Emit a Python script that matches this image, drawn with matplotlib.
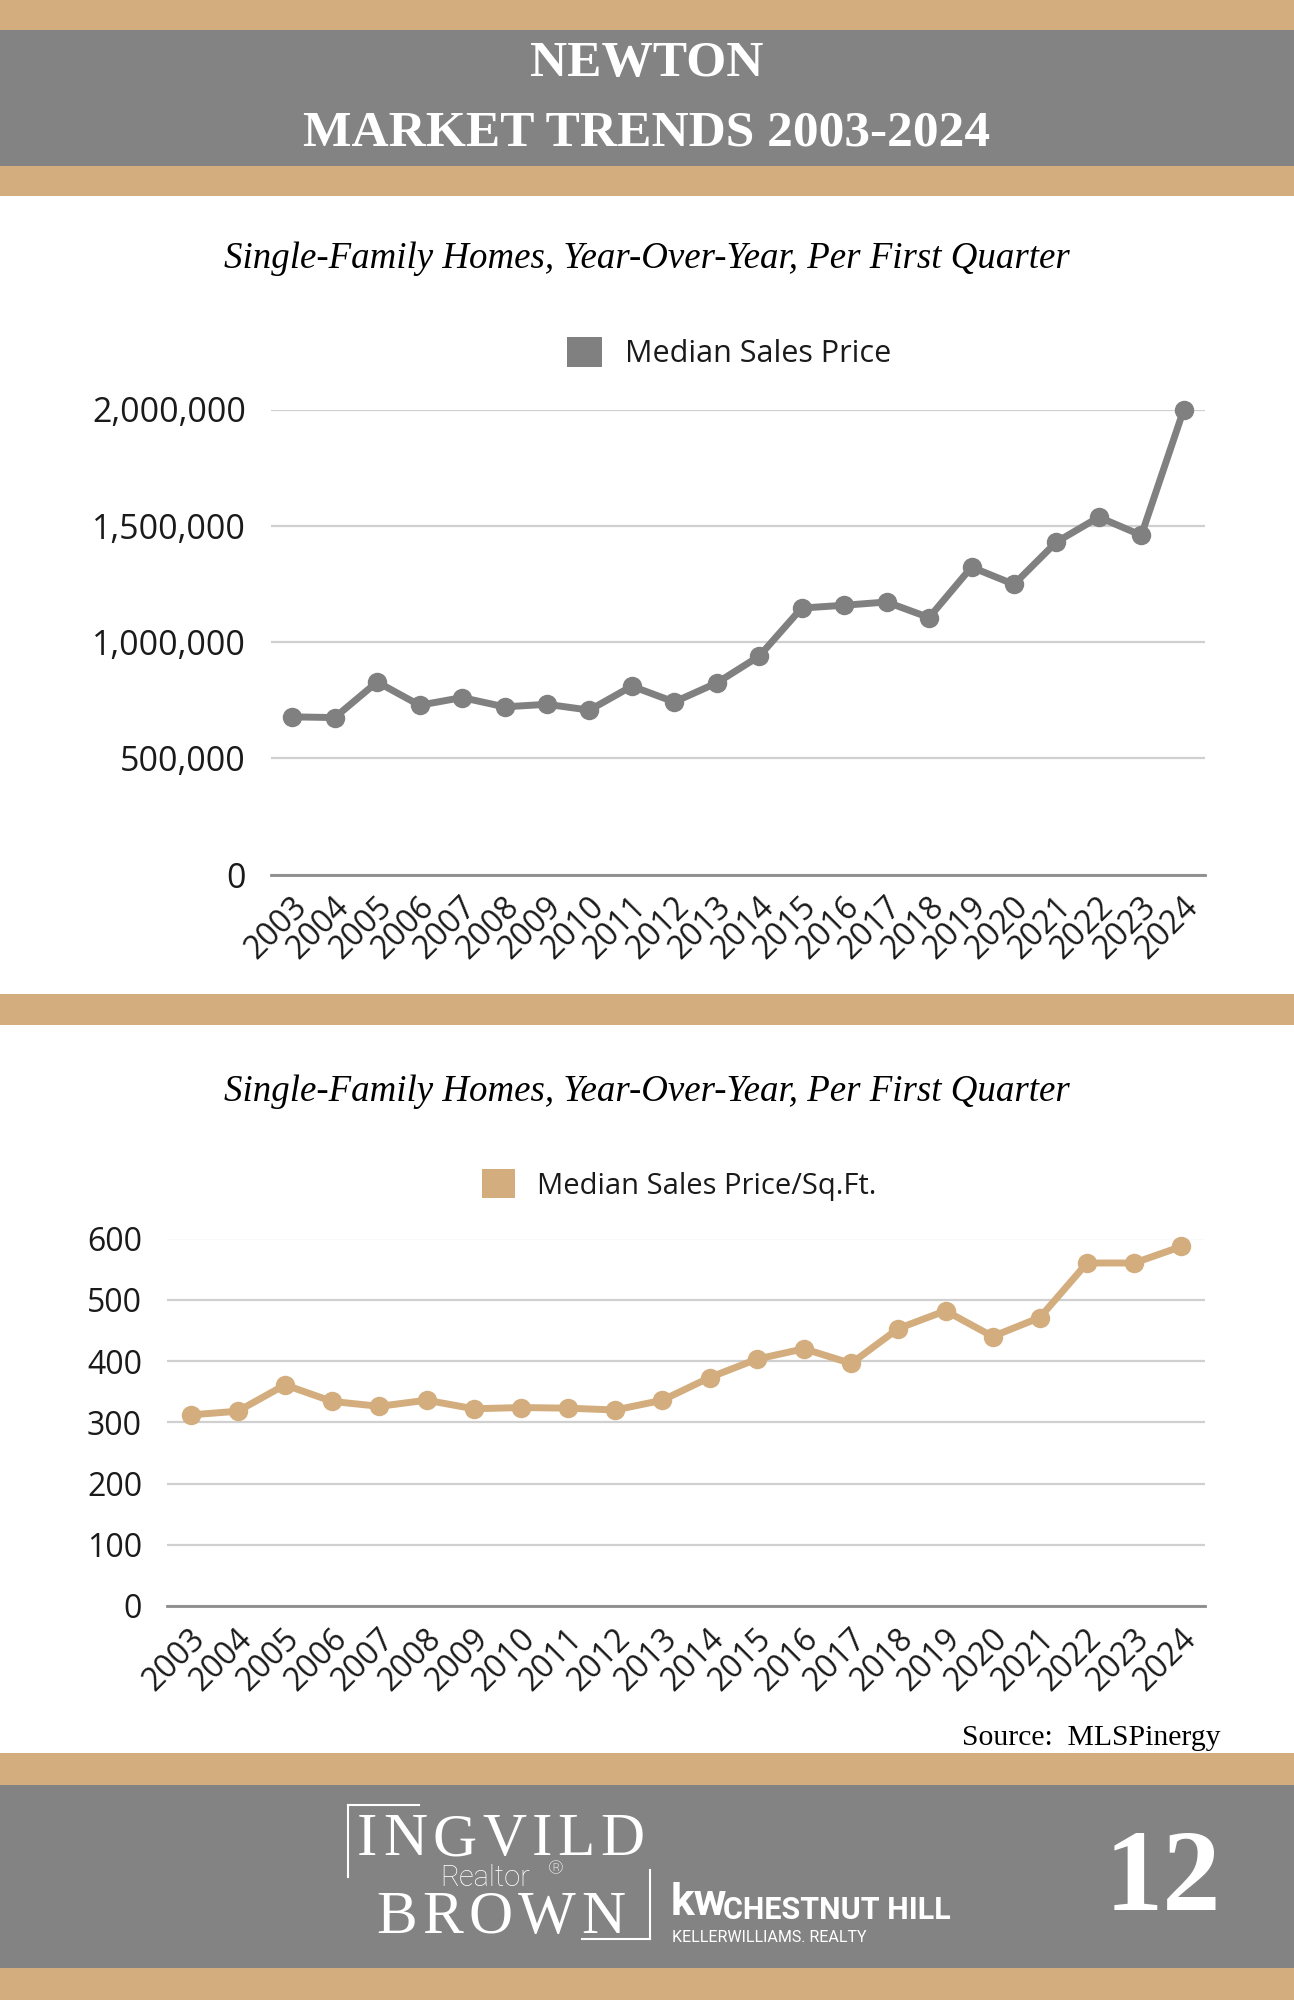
import matplotlib
matplotlib.use("Agg")
import matplotlib.pyplot as plt
from matplotlib.patches import Rectangle, Patch
from matplotlib.ticker import FuncFormatter
from matplotlib.transforms import ScaledTranslation

# ---------------- data ----------------
years = ["2003", "2004", "2005", "2006", "2007", "2008", "2009", "2010", "2011",
         "2012", "2013", "2014", "2015", "2016", "2017", "2018", "2019", "2020",
         "2021", "2022", "2023", "2024"]
median_price = [678000, 675000, 828000, 728000, 761000, 721000, 732000, 707000,
                810000, 742000, 824000, 939000, 1146000, 1158000, 1172000,
                1105000, 1322000, 1248000, 1430000, 1537000, 1459000, 2000000]
median_ppsf = [312, 318, 361, 334, 326, 336, 322, 324, 323, 320, 336, 373, 403,
               420, 396, 453, 482, 440, 471, 560, 560, 587]
price_ticks = [0, 500000, 1000000, 1500000, 2000000]
ppsf_ticks = [0, 100, 200, 300, 400, 500, 600]

title_lines = ["NEWTON", "MARKET TRENDS 2003-2024"]
subtitle = "Single-Family Homes, Year-Over-Year, Per First Quarter"
legend1 = "Median Sales Price"
legend2 = "Median Sales Price/Sq.Ft."
source = "Source:  MLSPinergy"
page_no = "12"

# ---------------- style ----------------
W, H = 1294, 2000
TAN = "#D3AD7D"
GRAY = "#838383"
LINE_GRAY = "#808080"
GRID = "#D0D0D0"
AXIS = "#8C8C8C"
SANS = ["Open Sans", "DejaVu Sans"]
SERIF = ["Liberation Serif", "DejaVu Serif"]
NARROW = ["Liberation Sans Narrow", "Roboto", "DejaVu Sans"]

fig = plt.figure(figsize=(W / 100, H / 100), dpi=100)
fig.patch.set_facecolor("white")

bg = fig.add_axes([0, 0, 1, 1], zorder=0)
bg.set_xlim(0, W)
bg.set_ylim(H, 0)
bg.axis("off")
renderer = fig.canvas.get_renderer()


def band(y0, y1, color):
    bg.add_patch(Rectangle((0, y0), W, y1 - y0, facecolor=color, edgecolor="none"))


# header bands
band(0, 30, TAN)
band(30, 166, GRAY)
band(166, 196, TAN)
# middle band
band(994, 1025, TAN)
# footer bands
band(1753, 1785, TAN)
band(1785, 1968, GRAY)
band(1968, 2000, TAN)

# header title
bg.text(W / 2, 64, title_lines[0], ha="center", va="center", color="white",
        fontsize=37, fontweight="bold", family=SERIF)
bg.text(W / 2, 134, title_lines[1], ha="center", va="center", color="white",
        fontsize=37, fontweight="bold", family=SERIF)

# subtitles
bg.text(W / 2, 259, subtitle, ha="center", va="center", color="black",
        fontsize=26.6, style="italic", family=SERIF)
bg.text(W / 2, 1092, subtitle, ha="center", va="center", color="black",
        fontsize=26.6, style="italic", family=SERIF)

# source
bg.text(1221, 1738, source, ha="right", va="center", color="black",
        fontsize=21.3, family=SERIF)


def spaced(word, x0, x1, y, size, va):
    texts = [bg.text(0, y, ch, ha="left", va=va, color="white",
                     fontsize=size, family=SERIF) for ch in word]
    widths = [t.get_window_extent(renderer).width for t in texts]
    gap = (x1 - x0 - sum(widths)) / (len(word) - 1)
    x = x0
    for t, w in zip(texts, widths):
        t.set_x(x)
        x += w + gap


# footer logo
bg.plot([348, 348], [1805, 1877], color="white", lw=1.5)
bg.plot([348, 419], [1805, 1805], color="white", lw=1.5)
bg.plot([650, 650], [1870, 1939], color="white", lw=1.5)
bg.plot([582, 650], [1939, 1939], color="white", lw=1.5)
spaced("INGVILD", 357, 644, 1855, 44, "baseline")
spaced("BROWN", 376, 625, 1918, 44, "center")
bg.text(440, 1886, "Realtor", ha="left", va="baseline", color="white",
        fontsize=21, family=["Roboto", "DejaVu Sans"], fontweight="light")
bg.text(548, 1874, "\u00ae", ha="left", va="baseline", color="white",
        fontsize=14, family=["Roboto", "DejaVu Sans"], fontweight="light")
bg.text(671, 1903, "kw", ha="left", va="center", color="white",
        fontsize=32, fontweight="bold", family=NARROW)
bg.text(723, 1910, "CHESTNUT HILL", ha="left", va="center", color="white",
        fontsize=22, fontweight="bold", family=NARROW)
bg.text(672, 1937, "KELLERWILLIAMS. REALTY", ha="left", va="center", color="white",
        fontsize=11.5, family=NARROW)
bg.text(1163, 1882, page_no, ha="center", va="center", color="white",
        fontsize=84, fontweight="bold", family=SERIF)


def make_axes(left, right, top, bottom):
    return fig.add_axes([left / W, (H - bottom) / H, (right - left) / W, (bottom - top) / H],
                        zorder=2)


def style_axes(ax, ticks, fmt, color, values, legend_label, leg_center, ysize, legsize):
    x = list(range(len(years)))
    ax.plot(x, values, color=color, lw=5, marker="o", markersize=13,
            solid_joinstyle="round", clip_on=False, zorder=3)
    ax.set_xlim(-0.5, len(years) - 0.5)
    ax.set_ylim(ticks[0], ticks[-1])
    ax.set_yticks(ticks)
    ax.yaxis.set_major_formatter(FuncFormatter(fmt))
    ax.set_xticks(x)
    ax.set_xticklabels(years, rotation=45, ha="right", va="center",
                       rotation_mode="anchor")
    ax.yaxis.grid(True, color=GRID, lw=1.6, zorder=0)
    ax.set_axisbelow(True)
    for s in ("top", "right", "left"):
        ax.spines[s].set_visible(False)
    ax.spines["bottom"].set_color(AXIS)
    ax.spines["bottom"].set_linewidth(2)
    ax.tick_params(axis="y", length=0, pad=18, labelsize=ysize, labelcolor="#1a1a1a")
    ax.tick_params(axis="x", length=0, pad=20, labelsize=23, labelcolor="#1a1a1a")
    offset = ScaledTranslation(7 / 72, 0, fig.dpi_scale_trans)
    for lab in ax.get_xticklabels():
        lab.set_family(SANS)
        lab.set_transform(lab.get_transform() + offset)
    for lab in ax.get_yticklabels():
        lab.set_family(SANS)
    ax.set_facecolor("none")
    leg = ax.legend(handles=[Patch(facecolor=color, edgecolor="none", label=legend_label)],
                    loc="center", bbox_to_anchor=(leg_center[0] / W, 1 - leg_center[1] / H),
                    bbox_transform=fig.transFigure, frameon=False,
                    handlelength=1.15, handleheight=1.15, handletextpad=0.75,
                    prop={"family": SANS, "size": legsize})
    for t in leg.get_texts():
        t.set_color("#1a1a1a")


ax1 = make_axes(271, 1205, 409.5, 874.5)
style_axes(ax1, price_ticks, lambda v, p: f"{v:,.0f}", LINE_GRAY, median_price,
           legend1, (729, 353), 24.5, 22)

ax2 = make_axes(167, 1205, 1238.5, 1606)
style_axes(ax2, ppsf_ticks, lambda v, p: f"{v:.0f}", TAN, median_ppsf,
           legend2, (679, 1185), 23, 21)

fig.savefig("out.png", dpi=100)
